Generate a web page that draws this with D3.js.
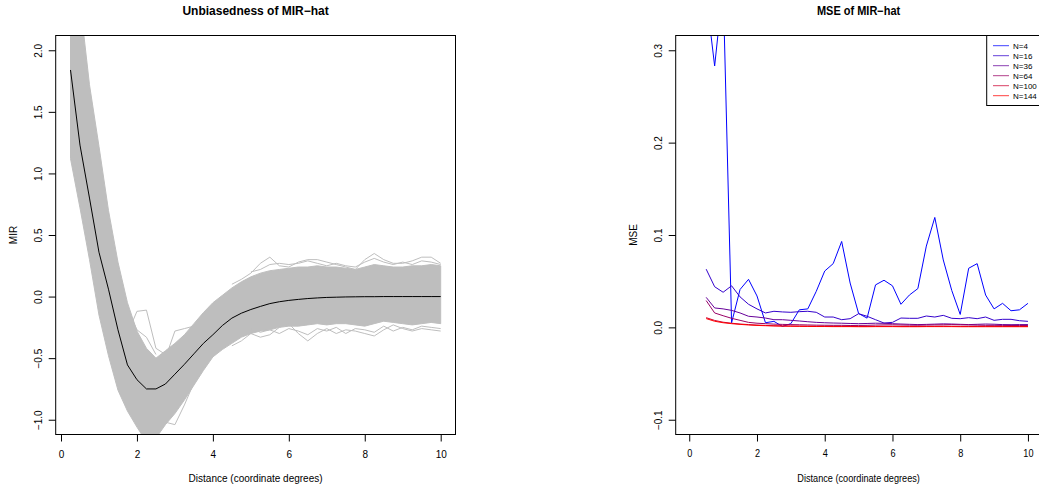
<!DOCTYPE html>
<html>
<head>
<meta charset="utf-8">
<script src="https://cdn.jsdelivr.net/npm/d3@7"></script>
<style>
  body { margin: 0; background: #fff; }
  svg text { font-family: "Liberation Sans", Arial, Helvetica, sans-serif; fill: #000; }
</style>
</head>
<body>
<svg id="chart" width="1039" height="486"></svg>
<script>
// ---- left panel: simulated MIR curves (band) ----
const mirDist = [0.25, 0.5, 0.75, 1, 1.25, 1.5, 1.75, 2, 2.25, 2.5, 2.75, 3, 3.25, 3.5, 3.75, 4,
  4.25, 4.5, 4.75, 5, 5.25, 5.5, 5.75, 6, 6.25, 6.5, 6.75, 7, 7.25, 7.5, 7.75, 8,
  8.25, 8.5, 8.75, 9, 9.25, 9.5, 9.75, 10];
const mirMean = [1.84, 1.23, 0.80, 0.36, 0.06, -0.27, -0.555, -0.675, -0.75, -0.75, -0.71, -0.63,
  -0.55, -0.465, -0.38, -0.31, -0.235, -0.175, -0.135, -0.105, -0.08, -0.057, -0.042, -0.031,
  -0.023, -0.016, -0.011, -0.007, -0.005, -0.003, -0.002, -0.001, -0.001, 0, 0, 0, 0, 0, 0, 0];
const mirUpper = [2.9, 2.4, 1.72, 1.22, 0.70, 0.28, -0.05, -0.28, -0.42, -0.50, -0.44, -0.38,
  -0.31, -0.22, -0.13, -0.05, 0.01, 0.07, 0.12, 0.16, 0.19, 0.21, 0.22, 0.23, 0.24, 0.24,
  0.25, 0.24, 0.24, 0.23, 0.22, 0.24, 0.26, 0.25, 0.24, 0.24, 0.25, 0.25, 0.26, 0.25];
const mirLower = [1.12, 0.72, 0.30, -0.15, -0.48, -0.76, -0.93, -1.06, -1.18, -1.15, -1.04, -0.95,
  -0.84, -0.72, -0.60, -0.49, -0.43, -0.38, -0.33, -0.30, -0.28, -0.27, -0.25, -0.24, -0.24,
  -0.23, -0.22, -0.23, -0.22, -0.22, -0.23, -0.24, -0.22, -0.20, -0.21, -0.22, -0.23, -0.22,
  -0.21, -0.22];

// a few stray curves that stick out of the band
const strayTrough1 = [[1.75, -0.30], [2, -0.12], [2.25, -0.11], [2.5, -0.42], [2.75, -0.47]];
const strayTrough2 = [[1.75, -0.10], [2, -0.27], [2.25, -0.33], [2.5, -0.47]];
const strayRise = [[2.75, -0.50], [3, -0.28], [3.25, -0.26], [3.5, -0.24], [3.75, -0.14]];
const strayLow = [[2.5, -1.0], [2.75, -1.02], [3, -1.04], [3.25, -0.88], [3.5, -0.70]];
const strayHigh = [[4.5, 0.10], [4.75, 0.14], [5, 0.19], [5.25, 0.27], [5.5, 0.32], [5.75, 0.25],
  [6, 0.24], [6.25, 0.28], [6.5, 0.30], [6.75, 0.30], [7, 0.28], [7.25, 0.26], [7.5, 0.24],
  [7.75, 0.22], [8, 0.30], [8.25, 0.35], [8.5, 0.30], [8.75, 0.27], [9, 0.27], [9.25, 0.29],
  [9.5, 0.32], [9.75, 0.32], [10, 0.27]];
const strayHigh2 = [[5, 0.20], [5.25, 0.22], [5.5, 0.26], [5.75, 0.27], [6, 0.26], [6.25, 0.27],
  [6.5, 0.29], [6.75, 0.27], [7, 0.25], [7.25, 0.27], [7.5, 0.25], [7.75, 0.24], [8, 0.28],
  [8.25, 0.31], [8.5, 0.28], [8.75, 0.26], [9, 0.28], [9.25, 0.26], [9.5, 0.29], [9.75, 0.28], [10, 0.26]];
const strayLowTail = [[4.5, -0.40], [4.75, -0.36], [5, -0.30], [5.25, -0.33], [5.5, -0.31],
  [5.75, -0.25], [6, -0.22], [6.25, -0.30], [6.5, -0.36], [6.75, -0.30], [7, -0.26], [7.25, -0.30],
  [7.5, -0.27], [7.75, -0.28], [8, -0.30], [8.25, -0.32], [8.5, -0.27], [8.75, -0.23], [9, -0.26],
  [9.25, -0.28], [9.5, -0.26], [9.75, -0.27], [10, -0.28]];
const strayLow2 = [[5, -0.26], [5.25, -0.29], [5.5, -0.27], [5.75, -0.30], [6, -0.26], [6.25, -0.28],
  [6.5, -0.31], [6.75, -0.26], [7, -0.28], [7.25, -0.25], [7.5, -0.30], [7.75, -0.26], [8, -0.27],
  [8.25, -0.29], [8.5, -0.24], [8.75, -0.28], [9, -0.25], [9.25, -0.27], [9.5, -0.24], [9.75, -0.25], [10, -0.26]];

// ---- right panel: MSE by sample size ----
const mseDist = [0.5, 0.75, 1, 1.25, 1.5, 1.75, 2, 2.25, 2.5, 2.75, 3, 3.25, 3.5, 3.75, 4,
  4.25, 4.5, 4.75, 5, 5.25, 5.5, 5.75, 6, 6.25, 6.5, 6.75, 7, 7.25, 7.5, 7.75, 8,
  8.25, 8.5, 8.75, 9, 9.25, 9.5, 9.75, 10];
const mseN4 = [0.36, 0.283, 0.37, 0.005, 0.041, 0.052, 0.034, 0.005, 0.0065, 0.001, 0.004, 0.019,
  0.020, 0.039, 0.061, 0.069, 0.093, 0.048, 0.015, 0.010, 0.046, 0.051, 0.045, 0.025, 0.035,
  0.042, 0.088, 0.119, 0.073, 0.040, 0.014, 0.064, 0.069, 0.035, 0.020, 0.026, 0.018, 0.019, 0.026];
const mseN16 = [0.063, 0.044, 0.038, 0.045, 0.033, 0.025, 0.020, 0.0156, 0.0174, 0.0167, 0.0163,
  0.017, 0.0174, 0.0163, 0.0112, 0.0112, 0.0083, 0.0094, 0.0148, 0.012, 0.0083, 0.0047, 0.0054,
  0.0101, 0.0098, 0.0098, 0.0123, 0.0112, 0.013, 0.0098, 0.0094, 0.0105, 0.0094, 0.0112, 0.0076,
  0.0087, 0.0087, 0.0072, 0.0065];
const mseN36 = [0.0325, 0.021, 0.020, 0.0184, 0.0156, 0.012, 0.0112, 0.0101, 0.0083, 0.0083,
  0.0076, 0.0069, 0.0061, 0.0054, 0.005, 0.0047, 0.0045, 0.0042, 0.004, 0.0042, 0.0045, 0.0044,
  0.004, 0.0036, 0.0033, 0.003, 0.0032, 0.0035, 0.0038, 0.0036, 0.0033, 0.003, 0.0033, 0.0036,
  0.0034, 0.003, 0.0029, 0.003, 0.003];
const mseN64 = [0.029, 0.0156, 0.0126, 0.0098, 0.0076, 0.0054, 0.0045, 0.004, 0.0035, 0.0032,
  0.003, 0.0028, 0.0026, 0.0024, 0.0023, 0.0022, 0.0022, 0.002, 0.0021, 0.0022, 0.0025, 0.0027,
  0.0028, 0.0026, 0.0024, 0.0023, 0.0025, 0.0027, 0.0028, 0.003, 0.0028, 0.0026, 0.0024, 0.0022,
  0.0022, 0.0021, 0.002, 0.002, 0.002];
const mseN100 = [0.0105, 0.0075, 0.0056, 0.0045, 0.0036, 0.003, 0.0025, 0.0021, 0.0018, 0.0016,
  0.0015, 0.0014, 0.0013, 0.0012, 0.0012, 0.0011, 0.0011, 0.001, 0.001, 0.001, 0.0011, 0.0012,
  0.0012, 0.0011, 0.001, 0.001, 0.0011, 0.0012, 0.0013, 0.0012, 0.0011, 0.001, 0.001, 0.0011,
  0.0011, 0.001, 0.001, 0.001, 0.001];
const mseN144 = [0.0095, 0.0066, 0.005, 0.004, 0.0032, 0.0026, 0.0021, 0.0018, 0.0015, 0.0013,
  0.0012, 0.0011, 0.001, 0.0009, 0.0009, 0.0008, 0.0008, 0.0008, 0.0007, 0.0007, 0.0008, 0.0008,
  0.0008, 0.0007, 0.0007, 0.0007, 0.0008, 0.0008, 0.0008, 0.0008, 0.0007, 0.0007, 0.0007, 0.0007,
  0.0007, 0.0007, 0.0007, 0.0007, 0.0007];
const seriesNames = ["N=4", "N=16", "N=36", "N=64", "N=100", "N=144"];
const seriesColors = ["#0000FF", "#3300CC", "#660099", "#990066", "#CC0033", "#FF0000"];
const seriesValues = [mseN4, mseN16, mseN36, mseN64, mseN100, mseN144];

const xTicks = [0, 2, 4, 6, 8, 10];
const mirTicks = [-1, -0.5, 0, 0.5, 1, 1.5, 2];
const mseTicks = [-0.1, 0, 0.1, 0.2, 0.3];

const svg = d3.select("#chart");
const plotTop = 35.5, plotBottom = 434.5;
const fmt = (d) => d3.format(".1f")(d).replace("-", "\u2212");

// squeeze: the right panel of the original is a bit narrower, text included
function frame(left, right, xDomain, yDomain, yTicks, title, yLabel, id, squeeze) {
  const x = d3.scaleLinear().domain(xDomain).range([left, right]);
  const y = d3.scaleLinear().domain(yDomain).range([plotBottom, plotTop]);
  const cx = (left + right) / 2;

  svg.append("clipPath").attr("id", id)
    .append("rect")
    .attr("x", left).attr("y", plotTop)
    .attr("width", right - left).attr("height", plotBottom - plotTop);

  const xAxis = svg.append("g")
    .attr("transform", `translate(0, ${plotBottom})`)
    .call(d3.axisBottom(x).tickValues(xTicks).tickSize(7).tickSizeOuter(0).tickFormat(d3.format("d")));
  xAxis.select(".domain").remove();
  xAxis.selectAll("text")
    .attr("y", 23).attr("dy", 0)
    .attr("transform", `scale(${squeeze}, 1)`)
    .style("font-size", "10px");

  const yAxis = svg.append("g")
    .attr("transform", `translate(${left}, 0)`)
    .call(d3.axisLeft(y).tickValues(yTicks).tickSize(7).tickSizeOuter(0).tickFormat(fmt));
  yAxis.select(".domain").remove();
  yAxis.selectAll("text")
    .attr("transform", "rotate(-90)")
    .attr("x", 0).attr("y", -14).attr("dy", 0)
    .attr("text-anchor", "middle")
    .style("font-size", "10px");

  svg.append("text")
    .attr("transform", `translate(${cx}, 15) scale(${squeeze}, 1)`)
    .attr("text-anchor", "middle")
    .style("font-size", "12px").style("font-weight", "bold")
    .text(title);

  svg.append("text")
    .attr("transform", `translate(${cx}, 482) scale(${squeeze}, 1)`)
    .attr("text-anchor", "middle")
    .style("font-size", "10px")
    .text("Distance (coordinate degrees)");

  svg.append("text")
    .attr("transform", `translate(${left - 39}, ${(plotTop + plotBottom) / 2}) rotate(-90)`)
    .attr("text-anchor", "middle")
    .style("font-size", "10px")
    .text(yLabel);

  return { x, y };
}

// left panel
const L = frame(55.7, 455.5, [-0.14, 10.39], [-1.12, 2.12], mirTicks,
  "Unbiasedness of MIR\u2212hat", "MIR", "clipL", 1);
const gL = svg.append("g").attr("clip-path", "url(#clipL)");

gL.append("path")
  .datum(mirDist.map((d, i) => ({ x: d, lo: mirLower[i], hi: mirUpper[i] })))
  .attr("d", d3.area().x((d) => L.x(d.x)).y0((d) => L.y(d.lo)).y1((d) => L.y(d.hi)))
  .attr("fill", "#BEBEBE")
  .attr("stroke", "#BEBEBE")
  .attr("stroke-width", 1);

const mirLine = d3.line().x((d) => L.x(d[0])).y((d) => L.y(d[1]));
[strayTrough1, strayTrough2, strayRise, strayLow, strayHigh, strayHigh2, strayLowTail, strayLow2]
  .forEach((s) => {
    gL.append("path").datum(s)
      .attr("d", mirLine)
      .attr("fill", "none")
      .attr("stroke", "#BEBEBE")
      .attr("stroke-width", 1);
  });

gL.append("path")
  .datum(mirDist.map((d, i) => [d, mirMean[i]]))
  .attr("d", mirLine)
  .attr("fill", "none")
  .attr("stroke", "#000")
  .attr("stroke-width", 1);

svg.append("rect")
  .attr("x", 55.7).attr("y", plotTop)
  .attr("width", 455.5 - 55.7).attr("height", plotBottom - plotTop)
  .attr("fill", "none").attr("stroke", "#000").attr("stroke-width", 1);

// right panel
const R = frame(675.7, 1041.5, [-0.4, 10.4], [-0.116, 0.316], mseTicks,
  "MSE of MIR\u2212hat", "MSE", "clipR", 0.915);
const gR = svg.append("g").attr("clip-path", "url(#clipR)");
const mseLine = d3.line().x((d) => R.x(d[0])).y((d) => R.y(d[1]));

seriesValues.forEach((vals, k) => {
  gR.append("path")
    .datum(mseDist.map((d, i) => [d, vals[i]]))
    .attr("d", mseLine)
    .attr("fill", "none")
    .attr("stroke", seriesColors[k])
    .attr("stroke-width", 1);
});

svg.append("rect")
  .attr("x", 675.7).attr("y", plotTop)
  .attr("width", 1041.5 - 675.7).attr("height", plotBottom - plotTop)
  .attr("fill", "none").attr("stroke", "#000").attr("stroke-width", 1);

// legend, top right
const legend = svg.append("g");
legend.append("rect")
  .attr("x", 986.7).attr("y", plotTop)
  .attr("width", 1041.5 - 986.7).attr("height", 105.5 - plotTop)
  .attr("fill", "#fff").attr("stroke", "#000").attr("stroke-width", 1);
seriesNames.forEach((name, k) => {
  const yy = 45.7 + k * 10;
  legend.append("line")
    .attr("x1", 993).attr("x2", 1009).attr("y1", yy).attr("y2", yy)
    .attr("stroke", seriesColors[k]).attr("stroke-opacity", 0.75).attr("stroke-width", 1);
  legend.append("text")
    .attr("x", 1013).attr("y", yy + 3)
    .style("font-size", "8px")
    .text(name);
});
</script>
</body>
</html>
